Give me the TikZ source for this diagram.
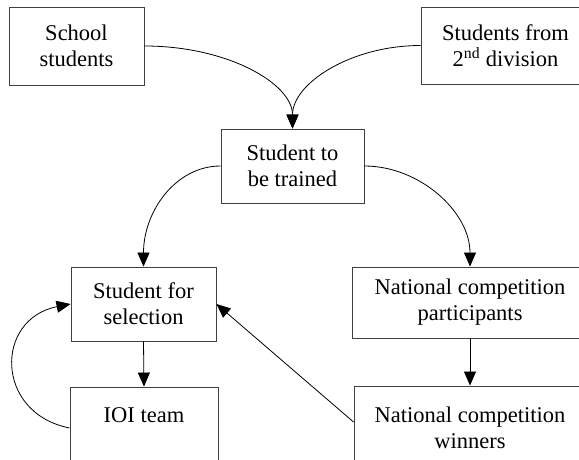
\documentclass[tikz,border=0pt]{standalone}
\usepackage{fontspec}
\setmainfont{LiberationSerif}[Extension=.ttf, UprightFont=*-Regular, BoldFont=*-Bold]
\usetikzlibrary{arrows.meta}
\begin{document}
\begin{tikzpicture}[x=1pt,y=1pt,
  box/.style={draw=black!75, line width=0.9pt, rectangle, inner sep=0pt, align=center,
    font=\rmfamily\fontsize{22.5}{26}\selectfont},
  arr/.style={line width=0.8pt, -{Triangle[length=14pt,width=12pt]}}]
\useasboundingbox (0,0) rectangle (579,-459);
\clip (0,0) rectangle (579,-459);
\node[box, minimum width=135pt, minimum height=78pt] (school) at (76.5,-46) {School\\students};
\node[box, minimum width=169pt, minimum height=77pt] (from) at (505.5,-45.5) {Students from\\2\textsuperscript{nd} division};
\node[box, minimum width=143pt, minimum height=74pt] (trained) at (292.5,-166) {Student to\\be trained};
\node[box, minimum width=145pt, minimum height=74pt] (sel) at (143.5,-304) {Student for\\selection};
\node[box, minimum width=236pt, minimum height=71pt] (part) at (470,-302.5) {National competition\\participants};
\node[box, minimum width=148pt, minimum height=82pt] (ioi) at (144,-428) {IOI team\\\phantom{I}};
\node[box, minimum width=232pt, minimum height=84pt] (win) at (470,-428) {National competition\\winners};
\draw[arr] (school.east) .. controls +(83,0) and +(0,45) .. (trained.north);
\draw[arr] (from.west) .. controls +(-70,0) and +(0,45) .. (trained.north);
\draw[arr] (trained.west) .. controls +(-45,0) and +(0,55) .. (sel.north);
\draw[arr] (trained.east) .. controls +(55,0) and +(0,55) .. (part.north);
\draw[arr] (sel.south) -- (ioi.north);
\draw[arr] (part.south) -- (win.north);
\draw[arr] (ioi.west) .. controls +(-75,15) and +(-76,-15) .. (sel.west);
\draw[arr] ([yshift=6pt]win.west) -- (sel.east);
\end{tikzpicture}
\end{document}
